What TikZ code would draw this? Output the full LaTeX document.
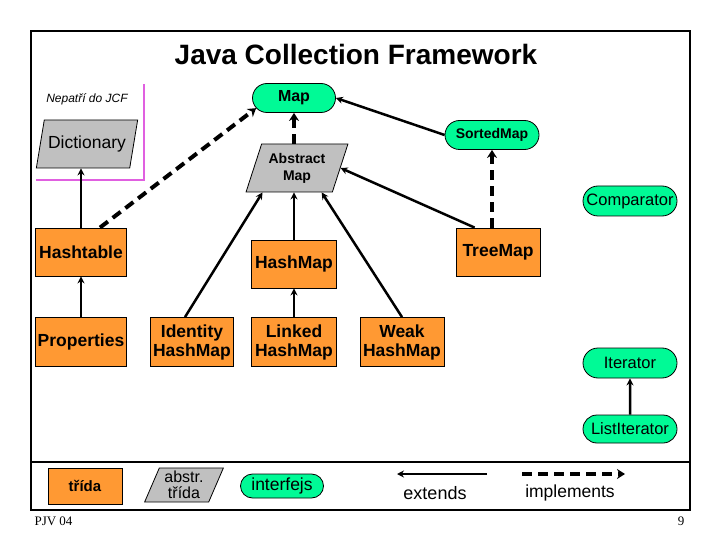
\documentclass[tikz,border=0pt]{standalone}
\usepackage{fontspec}
\setmainfont{Liberation Sans}
\newfontfamily\pjvfont{Liberation Serif}
\usepackage{tikz}
\usetikzlibrary{calc,positioning,arrows.meta,shapes.geometric,shapes.misc}
\definecolor{classorange}{RGB}{255,153,51}
\definecolor{ifacegreen}{RGB}{0,250,150}
\definecolor{abstractgray}{RGB}{192,192,192}
\definecolor{jcfpink}{RGB}{224,96,224}

\begin{document}
\begin{tikzpicture}[
    x=1pt, y=-1pt,
    extends/.style={draw, line width=2.5pt, -{Stealth[length=7pt,width=7pt]}},
    implements/.style={draw, line width=4pt, dash pattern=on 10pt off 6pt,
        -{Stealth[length=8pt,width=10pt]}},
    trida/.style={rectangle, draw, thick, fill=classorange, align=center, inner sep=1pt,
        font=\bfseries\fontsize{17.5}{19}\selectfont, minimum width=85pt, minimum height=48pt},
    abstrakt/.style={trapezium, trapezium left angle=68, trapezium right angle=112,
        trapezium stretches=true, draw, thick, fill=abstractgray, align=center, inner sep=1pt,
        minimum width=102pt, minimum height=48pt},
    interfejs/.style={rounded rectangle, draw, thick, fill=ifacegreen, inner sep=1pt,
        minimum width=96pt, minimum height=29pt, font=\fontsize{16.5}{18}\selectfont}
]
\useasboundingbox (0,0) rectangle (720,540);
\draw[line width=2pt] (31,31) rectangle (690,510);
\draw[line width=2pt] (31,462) -- (690,462);
\draw[line width=2pt, jcfpink] (144,84) -- (144,180) -- (36,180);

\node (Title) at (356,54) {\bfseries\fontsize{28}{32}\selectfont Java Collection Framework};
\node (Nepatri) at (87,99) {\itshape\fontsize{12}{14}\selectfont Nepatří do JCF};

\node (Map) [interfejs, minimum width=85pt, font=\bfseries\fontsize{16}{18}\selectfont]
    at (294,98) {Map};
\node (SortedMap) [interfejs, font=\bfseries\fontsize{14}{16}\selectfont] at (492,135) {SortedMap};
\node (Comparator) [interfejs, minimum height=30pt] at (630,201) {Comparator};
\node (Iterator) [interfejs, minimum height=30pt] at (630,363) {Iterator};
\node (ListIterator) [interfejs, minimum height=28pt] at (630,429) {ListIterator};

\node (Dictionary) [abstrakt, font=\fontsize{17.5}{19}\selectfont] at (87,144) {Dictionary};
\node (AbstractMap) [abstrakt, font=\bfseries\fontsize{14}{17}\selectfont]
    at (297,168) {Abstract\\Map};

\node (Hashtable) [trida, minimum width=91pt] at (81,252) {Hashtable};
\node (Properties) [trida, minimum width=91pt, minimum height=49pt] at (81,342) {Properties};
\node (IdentityHashMap) [trida, minimum width=83pt, minimum height=49pt] at (192,342) {Identity\\HashMap};
\node (HashMap) [trida] at (294,264) {HashMap};
\node (LinkedHashMap) [trida, minimum height=49pt] at (294,342) {Linked\\HashMap};
\node (WeakHashMap) [trida, minimum width=84pt, minimum height=49pt] at (402,342) {Weak\\HashMap};
\node (TreeMap) [trida, minimum width=84pt] at (498,252) {TreeMap};

\draw[extends] (Hashtable.north) -- (Hashtable.north |- Dictionary.south);
\draw[extends] (Properties) -- (Hashtable);
\draw[extends] (LinkedHashMap) -- (HashMap);
\draw[extends] (ListIterator) -- (Iterator);
\draw[extends] (SortedMap.west) -- (Map.east);
\draw[extends] (HashMap.north) -- (HashMap.north |- AbstractMap.south);
\draw[extends] ($(IdentityHashMap.north)+(-7,0)$) -- ($(AbstractMap.bottom left corner)+(17,0)$);
\draw[extends] (WeakHashMap.north) -- ($(AbstractMap.bottom right corner)+(-11,0)$);
\draw[extends] ($(TreeMap.north west)+(19,0)$) -- (AbstractMap.east);

\draw[implements] ($(Hashtable.north)+(19,0)$) -- (Map.195);
\draw[implements] (Map.south |- AbstractMap.north) -- (Map.south);
\draw[implements] (SortedMap.south |- TreeMap.north) -- (SortedMap.south);

\node (LegendTrida) [trida, minimum width=74pt, minimum height=36pt,
    font=\bfseries\fontsize{15}{17}\selectfont] at (85,486) {třída};
\node (LegendAbstr) [abstrakt, minimum width=79pt, minimum height=34pt,
    font=\fontsize{16}{16.5}\selectfont] at (184,485) {abstr.\\třída};
\node (LegendIface) [interfejs, minimum width=85pt, minimum height=24pt,
    font=\fontsize{17.5}{19}\selectfont] at (282,486) {interfejs};
\coordinate (ExtendsFrom) at (487,474);
\coordinate (ExtendsTo) at (397,474);
\draw[extends] (ExtendsFrom) -- (ExtendsTo);
\node (ExtendsText) at (435,493) {\fontsize{18}{20}\selectfont extends};
\coordinate (ImplementsFrom) at (522,474);
\coordinate (ImplementsTo) at (625,474);
\draw[implements] (ImplementsFrom) -- (ImplementsTo);
\node (ImplementsText) at (570,493) {\fontsize{17.5}{19}\selectfont implements};

\node (Footer) [anchor=west] at (31,521) {\pjvfont\fontsize{13}{15}\selectfont PJV 04};
\node (PageNo) [anchor=east] at (688,521) {\pjvfont\fontsize{13}{15}\selectfont 9};
\end{tikzpicture}
\end{document}
